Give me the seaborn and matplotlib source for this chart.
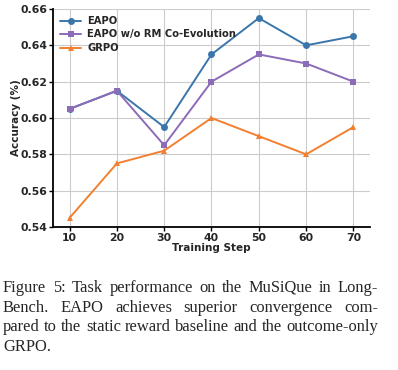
import matplotlib
matplotlib.use("Agg")
import matplotlib.pyplot as plt
import seaborn as sns
import pandas as pd

steps = [10, 20, 30, 40, 50, 60, 70]
eapo = [0.605, 0.615, 0.595, 0.635, 0.655, 0.640, 0.645]
eapo_wo = [0.605, 0.615, 0.585, 0.620, 0.635, 0.630, 0.620]
grpo = [0.545, 0.575, 0.582, 0.600, 0.590, 0.580, 0.595]
names = ["EAPO", "EAPO w/o RM Co-Evolution", "GRPO"]
yticks = [0.54, 0.56, 0.58, 0.60, 0.62, 0.64, 0.66]
caption_lines = [
    "Figure 5:  Task performance on the MuSiQue in Long-",
    "Bench.  EAPO achieves superior convergence com-",
    "pared to the static reward baseline and the outcome-only",
    "GRPO.",
]

sns.set_theme(style="whitegrid")
plt.rcParams["font.family"] = ["DejaVu Sans"]

df = pd.DataFrame({
    "step": steps * 3,
    "acc": eapo + eapo_wo + grpo,
    "method": [names[0]] * 7 + [names[1]] * 7 + [names[2]] * 7,
})

fig = plt.figure(figsize=(3.98, 3.70), dpi=100)
ax = fig.add_axes([53 / 398, 1 - 227 / 370, (370 - 53) / 398, (227 - 9) / 370])

palette = {names[0]: "#3a76ab", names[1]: "#8c6bb8", names[2]: "#f28030"}
markers = {names[0]: "o", names[1]: "s", names[2]: "^"}
sns.lineplot(data=df, x="step", y="acc", hue="method", style="method",
             palette=palette, markers=markers, dashes=False, markersize=5,
             markeredgewidth=0, linewidth=1.4, ax=ax)

ax.set_ylim(0.54, 0.66)
ax.set_xlim(6.5, 73.5)
ax.set_xticks(steps)
ax.set_yticks(yticks)
ax.set_yticklabels([f"{v:.2f}" for v in yticks])
ax.tick_params(axis="both", labelsize=7.8, length=3, width=1, color="black",
               direction="out", left=True, bottom=True)
ax.tick_params(axis="y", pad=1)
ax.tick_params(axis="x", pad=1.5)
for lab in ax.get_xticklabels() + ax.get_yticklabels():
    lab.set_fontweight("bold")
ax.set_xlabel("Training Step", fontsize=7.5, fontweight="bold")
ax.set_ylabel("Accuracy (%)", fontsize=7.5, fontweight="bold")
ax.yaxis.set_label_coords(-(53 - 16) / 317, 0.5)
ax.xaxis.set_label_coords(0.5, -(248.5 - 227) / 218)
ax.xaxis.label.set_va("center")
ax.yaxis.label.set_va("center")
ax.grid(True, color="#cccccc", linewidth=0.8)
ax.set_facecolor("white")
for s in ["top", "right"]:
    ax.spines[s].set_visible(False)
for s in ["left", "bottom"]:
    ax.spines[s].set_color("black")
    ax.spines[s].set_linewidth(1.3)

leg = ax.legend(loc="upper left", frameon=False,
                prop={"weight": "bold", "size": 7.2}, handlelength=2.1,
                borderaxespad=0.3, labelspacing=0.35, handletextpad=0.6)

# caption (justified)
fig.canvas.draw()
renderer = fig.canvas.get_renderer()
x0, x1 = 3 / 398, 378 / 398
ys = [292, 312, 331, 351]
for i, (line, yp) in enumerate(zip(caption_lines, ys)):
    y = 1 - yp / 370
    words = line.split()
    kw = dict(fontsize=11.9, family="Liberation Serif", va="baseline", ha="left")
    if i == len(caption_lines) - 1:
        fig.text(x0, y, line, **kw)
        continue
    widths = []
    for w in words:
        t = fig.text(0, 0, w, **kw)
        bb = t.get_window_extent(renderer)
        widths.append(bb.width / fig.bbox.width)
        t.remove()
    gap = (x1 - x0 - sum(widths)) / (len(words) - 1)
    x = x0
    for w, wd in zip(words, widths):
        fig.text(x, y, w, **kw)
        x += wd + gap

fig.savefig("out.png", dpi=100)
